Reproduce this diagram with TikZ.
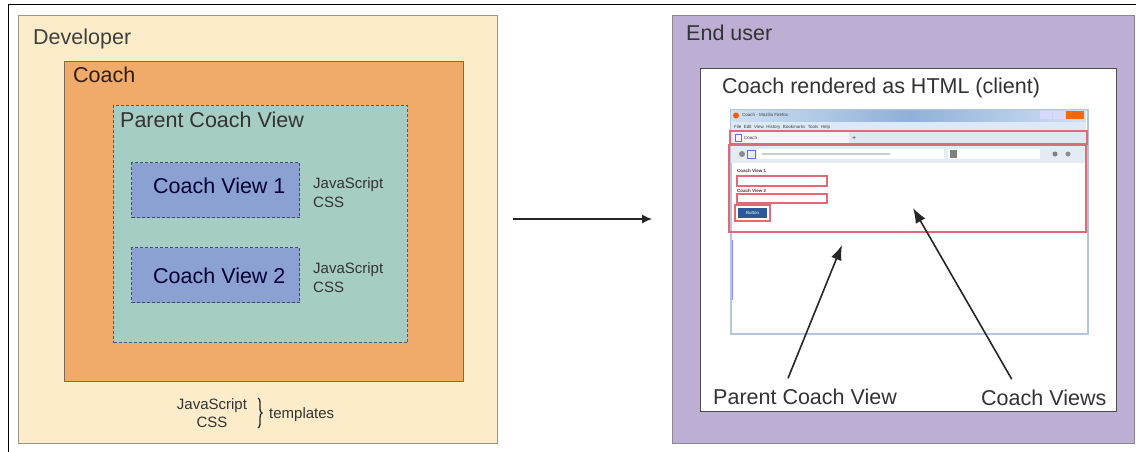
\documentclass[tikz,border=0pt]{standalone}
\usepackage{fontspec}
\setmainfont{Liberation Sans}
\usetikzlibrary{arrows.meta,decorations.pathreplacing}
\definecolor{devfill}{HTML}{FDECC9}
\definecolor{devline}{HTML}{9A948A}
\definecolor{coachfill}{HTML}{F0AA6A}
\definecolor{coachline}{HTML}{7D6A5A}
\definecolor{pcvfill}{HTML}{A6CDC3}
\definecolor{pcvline}{HTML}{4A5A66}
\definecolor{cvfill}{HTML}{8BA1D1}
\definecolor{cvline}{HTML}{3E4C6A}
\definecolor{eufill}{HTML}{BCAFD3}
\definecolor{euline}{HTML}{8A8494}
\definecolor{txt}{HTML}{333333}
\definecolor{redbox}{HTML}{E06A78}
\definecolor{bfr}{HTML}{B4C6D8}
\definecolor{tabrow}{HTML}{DCE8F4}
\definecolor{navbar}{HTML}{E4EBF3}
\definecolor{btnblue}{HTML}{2A5A9A}
\definecolor{titlelight}{HTML}{CFE0F2}
\definecolor{titledark}{HTML}{8FB0D8}
\tikzset{
  box/.style={draw, rectangle, anchor=north west, inner sep=0pt, line width=1.2pt},
  dbox/.style={box, dash pattern=on 3pt off 2pt, line width=1pt},
  big/.style={anchor=base west, inner sep=0pt, font=\fontsize{21.5}{24}\selectfont, text=txt},
  small/.style={anchor=base west, inner sep=0pt, font=\fontsize{15}{18}\selectfont, text=txt},
  tiny/.style={anchor=base west, inner sep=0pt, font=\fontsize{4.5}{5}\selectfont, text=black!75},
  redb/.style={draw=redbox, line width=1.2pt},
  bigarrow/.style={draw=black!85, line width=1.6pt, -{Latex[length=15pt,width=11pt]}},
}
\begin{document}
\begin{tikzpicture}[x=1pt,y=-1pt]
\useasboundingbox (0,0) rectangle (1136,452);
\fill[white] (0,0) rectangle (1136,452);
% outer frame lines
\draw[black, line width=1pt] (8,452) -- (8,5) -- (1136,5);

% ---------- left panel ----------
\node[box, fill=devfill, draw=devline, minimum width=479pt, minimum height=428pt] (dev) at (18,15) {};
\node[big, text=black!75] (devlbl) at (33,45) {Developer};
\node[box, fill=coachfill, draw=coachline, minimum width=399pt, minimum height=320pt] (coach) at (64,61) {};
\node[big, text=black!75!brown] (coachlbl) at (73,83) {Coach};
\node[dbox, fill=pcvfill, draw=pcvline, minimum width=294pt, minimum height=237pt] (pcv) at (113,105) {};
\node[big, text=black!80] (pcvlbl) at (120,128) {Parent Coach View};
\node[dbox, fill=cvfill, draw=cvline, minimum width=168pt, minimum height=55pt] (cv1) at (131,162) {};
\node[big, text=black!80!blue] (cv1lbl) at (153,193) {Coach View 1};
\node[dbox, fill=cvfill, draw=cvline, minimum width=168pt, minimum height=55pt] (cv2) at (131,247) {};
\node[big, text=black!80!blue] (cv2lbl) at (153,283) {Coach View 2};
\node[small] (js1) at (313,188) {JavaScript};
\node[small] (css1) at (313,207) {CSS};
\node[small] (js2) at (313,273) {JavaScript};
\node[small] (css2) at (313,292) {CSS};
\node[small, anchor=base] (js3) at (212,409) {JavaScript};
\node[small, anchor=base] (css3) at (212,427) {CSS};
\coordinate (brtop) at (258,398);
\coordinate (brbot) at (258,428);
\draw[black!85, line width=1.3pt, decorate, decoration={brace, amplitude=4pt}] (brtop) -- (brbot);
\node[small] (tmpl) at (269,418) {templates};

% ---------- middle arrow ----------
\coordinate (ma) at (513,219);
\coordinate (mb) at (652,219);
\draw[black!85, line width=1.3pt, -{Latex[length=10pt,width=9pt]}] (ma) -- (mb);

% ---------- right panel ----------
\node[box, fill=eufill, draw=euline, minimum width=462pt, minimum height=428pt] (eu) at (672,15) {};
\node[big] (eulbl) at (686,41) {End user};
\node[box, fill=white, draw=black!70, minimum width=416pt, minimum height=343pt] (wb) at (700,68) {};
\node[big] (rendlbl) at (722,94) {Coach rendered as HTML (client)};

% browser screenshot
\node[box, fill=white, draw=bfr, line width=1.5pt, minimum width=357pt, minimum height=224pt] (scr) at (730,109) {};
\shade[left color=titlelight, right color=titlelight, middle color=titledark] (731,110) rectangle (1086,122);
\fill[titlelight!70!white] (731,122) rectangle (1086,131);
\fill[orange!70!red] (736,115.5) circle (3pt);
\node[tiny] (ttl) at (742,117) {Coach - Mozilla Firefox};
\fill[blue!15] (1040,111) rectangle (1052,119);
\fill[blue!15] (1053,111) rectangle (1065,119);
\fill[orange!80!red] (1066,111) rectangle (1084,119);
\node[tiny] (menu) at (734,128.5) {File\ \ Edit\ \ View\ \ History\ \ Bookmarks\ \ Tools\ \ Help};
\fill[tabrow] (731,131) rectangle (1086,144);
\fill[blue!4] (733,132) rectangle (849,143);
\draw[blue!60, line width=0.6pt] (735,134) rectangle (741,141);
\node[tiny] (tab) at (744,139.5) {Coach};
\node[tiny, font=\fontsize{7}{7}\selectfont] (plus) at (852,140) {+};
\draw[redb] (730,131) rectangle (1087,144);
\fill[navbar] (731,145) rectangle (1086,163);
\fill[black!45] (742,154) circle (3pt);
\draw[blue!60, line width=0.8pt] (747,150) rectangle (755,158);
\fill[white] (757,149) rectangle (944,159);
\draw[black!20, line width=1.5pt] (762,154) -- (890,154);
\fill[white] (948,149) rectangle (1040,159);
\fill[black!50] (950,150) rectangle (957,158);
\fill[black!50] (1055,154) circle (2.5pt);
\fill[black!45] (1068,154) circle (2.5pt);
\node[tiny, font=\bfseries\fontsize{4.5}{5}\selectfont] (cvt1) at (737,172) {Coach View 1};
\draw[redb, fill=white] (737,176) rectangle (827,186);
\node[tiny, font=\bfseries\fontsize{4.5}{5}\selectfont] (cvt2) at (737,192) {Coach View 2};
\draw[redb, fill=white] (737,194) rectangle (827,203);
\draw[redb] (735,205) rectangle (770,221);
\node[fill=btnblue, text=white, inner sep=0pt, minimum width=29pt, minimum height=10pt, font=\fontsize{4.5}{5}\selectfont, anchor=north west] (btn) at (738,207.5) {Button};
\draw[redb] (729,145) rectangle (1086,232);
\draw[blue!45, line width=1.2pt] (732.5,240) -- (732.5,300);

\node[big] (pcvr) at (713,404) {Parent Coach View};
\node[big] (cvsr) at (981,405) {Coach Views};
\coordinate (tip1) at (842,245);
\coordinate (tip2) at (913,208);
\draw[bigarrow] ([xshift=-17pt,yshift=10pt]pcvr.north) -- (tip1);
\draw[bigarrow] ([xshift=-32pt,yshift=10pt]cvsr.north) -- (tip2);
\end{tikzpicture}
\end{document}
